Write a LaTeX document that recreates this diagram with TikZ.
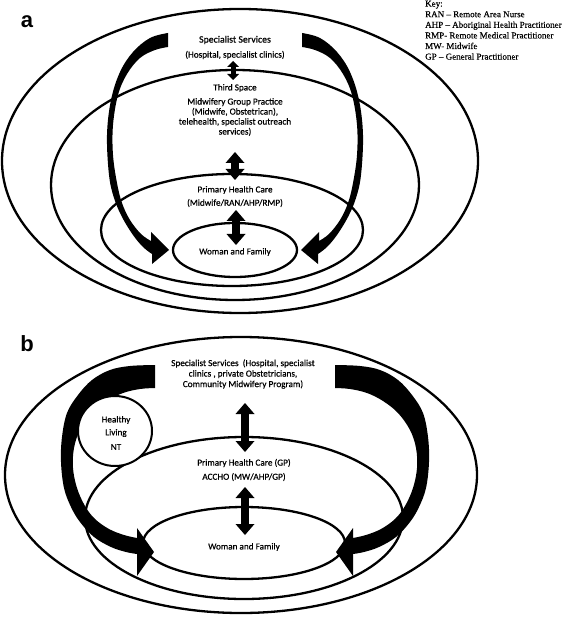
\documentclass[tikz,border=0pt]{standalone}
\usepackage{fontspec}
\setmainfont{Carlito}[FakeBold=0.6]
\newfontfamily\keyfont{Liberation Serif}[FakeBold=0.4]
\newfontfamily\labfont{Liberation Sans}
\usetikzlibrary{arrows.meta}
\tikzset{
  ring/.style={line width=2.3pt},
  txt/.style={font=\fontsize{9.2}{10}\selectfont, align=center, inner sep=0pt},
  darrS/.style={line width=5pt, arrows={Triangle[width=12pt,length=6pt,line width=0pt]-Triangle[width=12pt,length=6pt,line width=0pt]}},
  darrL/.style={line width=8pt, arrows={Triangle[width=19pt,length=11pt,line width=0pt]-Triangle[width=19pt,length=11pt,line width=0pt]}},
}
\newcommand\bigArrA{%
 plot[smooth, tension=0.6] coordinates {(168,33) (150,38) (133,52) (120,72) (111,100) (107,135) (109,175) (114,198) (122,217) (133,235) (143,247) (152,254)}
 -- (152,264) -- (169,250) -- (151,232) --
 plot[smooth, tension=0.6] coordinates {(151,241) (141,234) (130,220) (122,203) (117,183) (113,155) (113,125) (118,95) (127,74) (140,58) (155,50) (168,47)} -- cycle}
\newcommand\bigArrB{%
 plot[smooth, tension=0.6] coordinates {(155,365) (130,366) (110,370) (92,380) (78,395) (67,413) (62,437) (61,462) (64,488) (71,507) (80,522) (94,537) (111,547) (126,552) (137,554)}
 -- (137,576) -- (154,552) -- (137,528) --
 plot[smooth, tension=0.6] coordinates {(137,538) (124,535) (109,529) (95,519) (85,506) (77,488) (73,468) (74,448) (80,430) (92,413) (107,401) (123,393) (140,389) (155,388)} -- cycle}
\begin{document}
\begin{tikzpicture}[x=1pt,y=-1pt]
\useasboundingbox (0,0) rectangle (568,617);

% ---------- panel a ----------
\node[font=\labfont\bfseries\fontsize{22}{24}\selectfont, inner sep=0pt] (la) at (27,22) {a};
\draw[ring] (240,161) ellipse [x radius=238pt, y radius=152pt];
\draw[ring] (235,185) ellipse [x radius=184pt, y radius=115pt];
\draw[ring] (232,230) ellipse [x radius=131pt, y radius=56pt];
\draw[ring] (235,250) ellipse [x radius=62pt, y radius=27pt];

\fill \bigArrA;
\begin{scope}[xshift=470pt, xscale=-1]
  \fill \bigArrA;
\end{scope}

\node[txt, font=\fontsize{9.8}{10}\selectfont] (ssa) at (235,40) {Specialist Services};
\node[txt] (hosa) at (235,55) {(Hospital, specialist clinics)};
\node[txt] (tsa) at (235,88) {Third Space};
\node[txt] (mgp) at (235,117) {Midwifery Group Practice\\(Midwife, Obstetrican),\\telehealth, specialist outreach\\services)};
\node[txt] (phca) at (235,190) {Primary Health Care};
\node[txt] (phca2) at (235,203) {(Midwife/RAN/AHP/RMP)};
\node[txt] (wfa) at (235,252) {Woman and Family};

\coordinate (a1t) at (233,61); \coordinate (a1b) at (233,80);
\coordinate (a2t) at (235,152); \coordinate (a2b) at (235,180);
\coordinate (a3t) at (236,210); \coordinate (a3b) at (236,245);
\draw[darrS] (a1t) -- (a1b);
\draw[darrL] (a2t) -- (a2b);
\draw[darrL] (a3t) -- (a3b);

\node[font=\keyfont\fontsize{9}{10.6}\selectfont, align=left, anchor=north west, inner sep=0pt] (key) at (425,0.5)
 {Key:\\RAN – Remote Area Nurse\\AHP – Aboriginal Health Practitioner\\RMP- Remote Medical Practitioner\\MW- Midwife\\GP – General Practitioner};

% ---------- panel b ----------
\node[font=\labfont\bfseries\fontsize{22}{24}\selectfont, inner sep=0pt] (lb) at (27,344) {b};
\draw[ring] (241,475) ellipse [x radius=236pt, y radius=138pt];
\draw[ring] (244,518) ellipse [x radius=159pt, y radius=81pt];
\draw[ring] (244,543) ellipse [x radius=101pt, y radius=36pt];

\fill \bigArrB;
\begin{scope}[xshift=490pt, xscale=-1]
  \fill \bigArrB;
\end{scope}

\draw[line width=2pt, fill=white] (115,431) ellipse [x radius=37pt, y radius=35pt];
\node[txt] (hl1) at (116,420) {Healthy};
\node[txt] (hl2) at (116,433) {Living};
\node[txt] (hl3) at (116,447) {NT};

\node[txt, font=\fontsize{9.2}{10.5}\selectfont] (ssb) at (243,374) {Specialist Services\ \ (Hospital, specialist\\clinics , private Obstetricians,\\Community Midwifery Program)};
\node[txt] (phcb) at (244,463) {Primary Health Care (GP)};
\node[txt] (accho) at (244,477) {ACCHO (MW/AHP/GP)};
\node[txt] (wfb) at (244,547) {Woman and Family};

\coordinate (b1t) at (245,403); \coordinate (b1b) at (245,452);
\coordinate (b2t) at (245,487); \coordinate (b2b) at (245,535);
\draw[darrL] (b1t) -- (b1b);
\draw[darrL] (b2t) -- (b2b);
\end{tikzpicture}
\end{document}
